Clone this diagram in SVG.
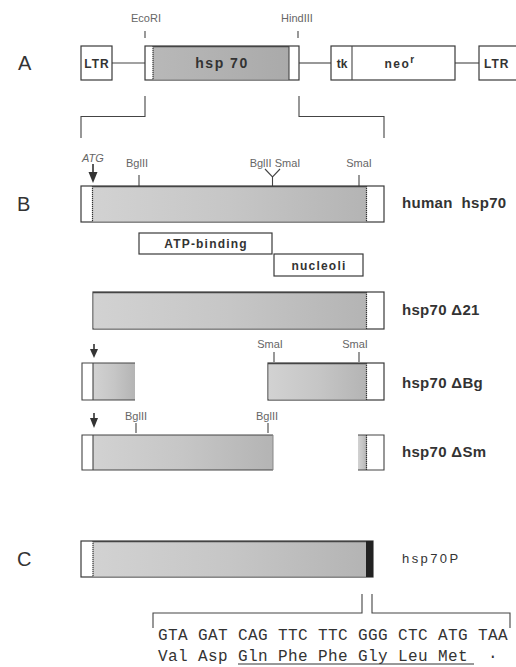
<svg xmlns="http://www.w3.org/2000/svg" width="516" height="667" viewBox="0 0 516 667">
<defs>
<linearGradient id="gr" x1="0" y1="0" x2="1" y2="0">
<stop offset="0" stop-color="#d2d2d2"/>
<stop offset="0.5" stop-color="#c6c6c6"/>
<stop offset="1" stop-color="#b4b4b4"/>
</linearGradient>
<linearGradient id="grA" x1="0" y1="0" x2="1" y2="0">
<stop offset="0" stop-color="#b8b8b8"/>
<stop offset="1" stop-color="#aaaaaa"/>
</linearGradient>
</defs>
<style>
.box{fill:#fff;stroke:#3a3a3a;stroke-width:1.2}
.g{fill:url(#gr)}
.gA{fill:url(#grA)}
.ln{stroke:#444;stroke-width:1.1;fill:none}
.dot{stroke:#333;stroke-width:1.2;stroke-dasharray:1.2 0.8}
.site{font-family:"Liberation Sans",Arial,sans-serif;font-size:11px;fill:#666;text-anchor:middle}
.panel{font-family:"Liberation Sans",Arial,sans-serif;font-size:20px;fill:#333}
.name{font-family:"Liberation Sans",Arial,sans-serif;font-size:15px;font-weight:bold;fill:#333;letter-spacing:0.3px;white-space:pre}
.inb{font-family:"Liberation Sans",Arial,sans-serif;font-weight:bold;fill:#333;text-anchor:middle}
.seq{font-family:"Liberation Mono","Courier New",monospace;font-size:16px;fill:#333;letter-spacing:0.4px;white-space:pre}
.arr{fill:#333}
</style>

<text class="panel" x="18" y="70">A</text>
<text class="panel" x="17" y="211">B</text>
<text class="panel" x="17" y="566">C</text>

<g id="connectors">
<line class="ln" x1="112" y1="63" x2="145" y2="63"/>
<line class="ln" x1="299" y1="63" x2="331" y2="63"/>
<line class="ln" x1="455" y1="63" x2="479" y2="63"/>
<line class="ln" x1="145" y1="31" x2="145" y2="38"/>
<line class="ln" x1="298" y1="31" x2="298" y2="38"/>
<polyline class="ln" points="145,96 145,116.5 81,116.5 81,138"/>
<polyline class="ln" points="299,96 299,116.5 384,116.5 384,138"/>
<polyline class="ln" points="362,594 362,613 153,613 153,628"/>
<polyline class="ln" points="372,594 372,613 510,613 510,628"/>
</g>

<g id="ltr-left">
<rect class="box" x="81" y="46" width="31" height="34"/>
<text class="inb" x="97" y="68" font-size="12" letter-spacing="1">LTR</text>
</g>

<g id="hsp70-insert">
<rect class="box" x="145" y="46" width="154" height="34"/>
<rect class="gA" x="153" y="46.6" width="136" height="32.8"/>
<line class="dot" x1="153" y1="46" x2="153" y2="80"/>
<line class="ln" x1="289" y1="46" x2="289" y2="80"/>
<line class="ln" x1="153" y1="46.6" x2="289" y2="46.6"/>
<text class="inb" x="222" y="68" font-size="14" letter-spacing="1.5">hsp 70</text>
<text class="site" x="146" y="22">EcoRI</text>
<text class="site" x="297" y="22">HindIII</text>
</g>

<g id="tk-neo">
<rect class="box" x="331" y="46" width="124" height="34"/>
<line class="ln" x1="352" y1="46" x2="352" y2="80"/>
<text class="inb" x="342" y="68" font-size="12">tk</text>
<text class="inb" x="400" y="68" font-size="12" letter-spacing="1.5">neo<tspan dy="-5" font-size="10">r</tspan></text>
</g>

<g id="ltr-right">
<rect class="box" x="479" y="46" width="60" height="34"/>
<text class="inb" x="484" y="68" font-size="12" letter-spacing="1" style="text-anchor:start">LTR</text>
</g>

<g id="human-hsp70">
<text class="site" x="93" y="162" font-style="italic">ATG</text>
<rect class="arr" x="92.2" y="164" width="1.6" height="9"/>
<polygon class="arr" points="88.5,172 97.5,172 93,183"/>
<text class="site" x="137" y="167">BglII</text>
<line class="ln" x1="139" y1="175" x2="139" y2="186"/>
<text class="site" x="275" y="167">BglII SmaI</text>
<polyline class="ln" points="265,169 272.5,177 280,169"/>
<line class="ln" x1="272.5" y1="177" x2="272.5" y2="186"/>
<text class="site" x="359" y="167">SmaI</text>
<line class="ln" x1="359" y1="175" x2="359" y2="186"/>
<rect class="box" x="81" y="186" width="303" height="36"/>
<rect class="g" x="92.5" y="186.6" width="274" height="34.8"/>
<line class="dot" x1="92.5" y1="186" x2="92.5" y2="222"/>
<line class="dot" x1="366.5" y1="186" x2="366.5" y2="222"/>
<line class="ln" x1="92.5" y1="186.6" x2="366.5" y2="186.6"/>
<text class="name" x="402" y="208" letter-spacing="0.5">human  hsp70</text>
</g>

<g id="atp-binding">
<rect class="box" x="139" y="233" width="133" height="21"/>
<text class="inb" x="206" y="248" font-size="12" letter-spacing="1.2">ATP-binding</text>
</g>

<g id="nucleoli">
<rect class="box" x="274" y="254" width="89" height="22"/>
<text class="inb" x="319" y="269.5" font-size="12" letter-spacing="1.2">nucleoli</text>
</g>

<g id="hsp70-d21">
<rect class="box" x="93" y="292" width="291" height="37"/>
<rect class="g" x="93.6" y="292.6" width="273" height="35.8"/>
<line class="dot" x1="366.5" y1="292" x2="366.5" y2="329"/>
<line class="ln" x1="93" y1="292.6" x2="366.5" y2="292.6"/>
<text class="name" x="402" y="315">hsp70 Δ21</text>
</g>

<g id="hsp70-dBg">
<rect class="arr" x="93.2" y="344" width="1.6" height="6"/>
<polygon class="arr" points="90,349 98,349 94,358"/>
<text class="site" x="270" y="348">SmaI</text>
<line class="ln" x1="274" y1="352" x2="274" y2="362"/>
<text class="site" x="355" y="348">SmaI</text>
<line class="ln" x1="359" y1="352" x2="359" y2="362"/>
<rect class="g" x="93" y="363" width="42" height="37"/>
<path class="ln" d="M135,363 H82 V400 H135"/>
<line class="ln" x1="93" y1="363" x2="93" y2="400"/>
<rect class="box" x="268" y="363" width="116" height="37"/>
<rect class="g" x="268.6" y="363.6" width="98" height="35.8"/>
<line class="dot" x1="366.5" y1="363" x2="366.5" y2="400"/>
<line class="ln" x1="268" y1="363.6" x2="366.5" y2="363.6"/>
<text class="name" x="402" y="388">hsp70 ΔBg</text>
</g>

<g id="hsp70-dSm">
<rect class="arr" x="93.2" y="413" width="1.6" height="6"/>
<polygon class="arr" points="90,418 98,418 94,428"/>
<text class="site" x="136" y="420">BglII</text>
<line class="ln" x1="136" y1="423" x2="136" y2="433"/>
<text class="site" x="267" y="420">BglII</text>
<line class="ln" x1="268" y1="423" x2="268" y2="433"/>
<rect class="g" x="93" y="435" width="180" height="35"/>
<path class="ln" d="M273,435 H82 V470 H273"/>
<line class="ln" x1="93" y1="435" x2="93" y2="470"/>
<line x1="273" y1="435" x2="273" y2="470" stroke="#888" stroke-width="1"/>
<rect class="g" x="358" y="435" width="9" height="35"/>
<path class="ln" d="M358,435 H384 V470 H358"/>
<line class="dot" x1="366.5" y1="435" x2="366.5" y2="470"/>
<text class="name" x="402" y="457">hsp70 ΔSm</text>
</g>

<g id="hsp70P">
<rect class="box" x="81" y="541" width="292" height="36"/>
<rect class="g" x="93" y="541.6" width="273" height="34.8"/>
<line class="dot" x1="93" y1="541" x2="93" y2="577"/>
<line class="ln" x1="93" y1="541.6" x2="366" y2="541.6"/>
<rect x="366" y="541" width="7" height="36" fill="#222"/>
<text x="402" y="563" font-family="'Liberation Sans',Arial,sans-serif" font-size="13" fill="#333" letter-spacing="2.4">hsp70P</text>
</g>

<g id="sequence">
<text class="seq" x="158" y="640">GTA GAT CAG TTC TTC GGG CTC ATG TAA</text>
<text class="seq" x="158" y="661">Val Asp Gln Phe Phe Gly Leu Met  ·</text>
<line x1="238" y1="664" x2="474" y2="664" stroke="#333" stroke-width="1"/>
</g>
</svg>
